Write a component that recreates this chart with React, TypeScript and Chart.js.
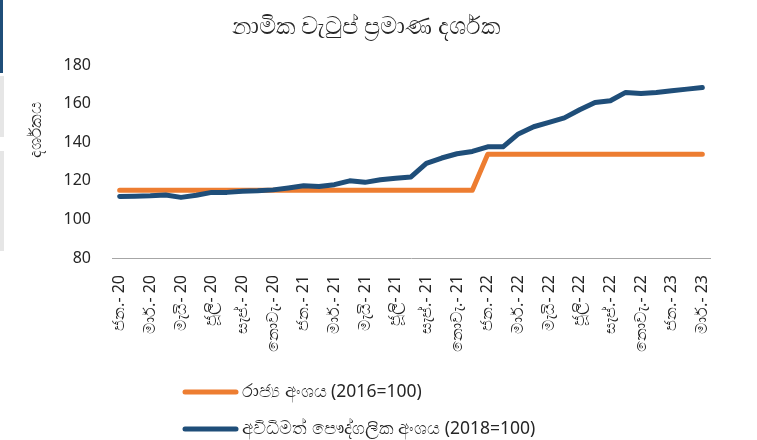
import React, { useEffect, useRef } from 'react';
import { Chart, registerables } from 'chart.js';

Chart.register(...registerables);

const titleText = 'නාමික වැටුප් ප්‍රමාණ දර්ශක';
const yTitleText = 'දර්ශකය';

const categories = [
  'ජන.- 20', 'පෙබ.- 20', 'මාර්.- 20', 'අප්‍රේ.- 20', 'මැයි- 20', 'ජූනි- 20',
  'ජූලි- 20', 'අගෝ.- 20', 'සැප්.- 20', 'ඔක්.- 20', 'නොවැ.- 20', 'දෙසැ.- 20',
  'ජන.- 21', 'පෙබ.- 21', 'මාර්.- 21', 'අප්‍රේ.- 21', 'මැයි- 21', 'ජූනි- 21',
  'ජූලි- 21', 'අගෝ.- 21', 'සැප්.- 21', 'ඔක්.- 21', 'නොවැ.- 21', 'දෙසැ.- 21',
  'ජන.- 22', 'පෙබ.- 22', 'මාර්.- 22', 'අප්‍රේ.- 22', 'මැයි- 22', 'ජූනි- 22',
  'ජූලි- 22', 'අගෝ.- 22', 'සැප්.- 22', 'ඔක්.- 22', 'නොවැ.- 22', 'දෙසැ.- 22',
  'ජන.- 23', 'පෙබ.- 23', 'මාර්.- 23',
];

const publicLabel = 'රාජ්‍ය අංශය (2016=100)';
const publicValues = [
  115.1, 115.1, 115.1, 115.1, 115.1, 115.1, 115.1, 115.1, 115.1, 115.1, 115.1, 115.1,
  115.1, 115.1, 115.1, 115.1, 115.1, 115.1, 115.1, 115.1, 115.1, 115.1, 115.1, 115.1,
  133.7, 133.7, 133.7, 133.7, 133.7, 133.7, 133.7, 133.7, 133.7, 133.7, 133.7, 133.7,
  133.7, 133.7, 133.7,
];

const informalLabel = 'අවිධිමත් පෞද්ගලික අංශය (2018=100)';
const informalValues = [
  111.9, 112.0, 112.2, 112.6, 111.4, 112.5, 114.0, 114.0, 114.6, 114.8, 115.3, 116.3,
  117.4, 117.0, 118.0, 120.0, 119.2, 120.5, 121.3, 122.0, 129.0, 131.8, 134.0, 135.2,
  137.6, 137.6, 144.3, 148.0, 150.3, 152.6, 156.8, 160.6, 161.5, 165.8, 165.2, 165.8,
  166.6, 167.5, 168.3,
];

const yMin = 80;
const yMax = 180;
const yStep = 20;

const ORANGE = '#ED7D31';
const BLUE = '#1F4E79';
const TEXT = '#262626';
const FONT = '"Noto Sans", "Open Sans", sans-serif';

const extrasPlugin = {
  id: 'extras',
  afterDraw(chart: any) {
    const ctx = chart.ctx as CanvasRenderingContext2D;
    ctx.save();
    ctx.fillStyle = TEXT;
    ctx.textBaseline = 'middle';
    // title
    ctx.font = `24px ${FONT}`;
    ctx.textAlign = 'center';
    ctx.fillText(titleText, 366, 27);
    // y axis title
    ctx.save();
    ctx.translate(36, 130);
    ctx.rotate(-Math.PI / 2);
    ctx.font = `17px ${FONT}`;
    ctx.textAlign = 'center';
    ctx.fillText(yTitleText, 0, 0);
    ctx.restore();
    // legend
    const items = [
      { label: publicLabel, color: ORANGE },
      { label: informalLabel, color: BLUE },
    ];
    items.forEach((it, i) => {
      const y = 392 + i * 37;
      ctx.strokeStyle = it.color;
      ctx.lineWidth = 5;
      ctx.lineCap = 'round';
      ctx.beginPath();
      ctx.moveTo(185, y);
      ctx.lineTo(236, y);
      ctx.stroke();
      ctx.font = `17.5px ${FONT}`;
      ctx.textAlign = 'left';
      ctx.fillStyle = TEXT;
      ctx.fillText(it.label, 242, y);
    });
    ctx.restore();
  },
};

export default function App() {
  const canvasRef = useRef<HTMLCanvasElement | null>(null);

  useEffect(() => {
    if (!canvasRef.current) return;
    const chart = new Chart(canvasRef.current, {
      type: 'line',
      data: {
        labels: categories,
        datasets: [
          {
            label: publicLabel,
            data: publicValues,
            borderColor: ORANGE,
            backgroundColor: ORANGE,
            borderWidth: 5,
            pointRadius: 0,
            borderCapStyle: 'round',
            borderJoinStyle: 'round',
            tension: 0,
            order: 1,
          },
          {
            label: informalLabel,
            data: informalValues,
            borderColor: BLUE,
            backgroundColor: BLUE,
            borderWidth: 5,
            pointRadius: 0,
            borderCapStyle: 'round',
            borderJoinStyle: 'round',
            tension: 0,
            order: 0,
          },
        ],
      },
      options: {
        animation: false,
        responsive: true,
        maintainAspectRatio: false,
        layout: { padding: { top: 65, right: 47, left: 0, bottom: 0 } },
        plugins: {
          legend: { display: false },
          title: { display: false },
          tooltip: { enabled: false },
        },
        scales: {
          x: {
            offset: true,
            grid: { display: false, drawTicks: false },
            border: { display: true, color: '#A6A6A6', width: 1 },
            ticks: {
              autoSkip: false,
              minRotation: 90,
              maxRotation: 90,
              padding: 17,
              color: TEXT,
              font: { family: FONT, size: 16 },
              callback: (_v: any, i: number) => (i % 2 === 0 ? categories[i] : ''),
            },
            afterFit: (scale: any) => {
              scale.height = 182;
            },
          },
          y: {
            min: yMin,
            max: yMax,
            grid: { display: false, drawTicks: false },
            border: { display: false },
            ticks: {
              stepSize: yStep,
              padding: 21,
              color: TEXT,
              font: { family: FONT, size: 16 },
            },
            afterFit: (scale: any) => {
              scale.width = 112;
            },
          },
        },
      },
      plugins: [extrasPlugin],
    });
    return () => chart.destroy();
  }, []);

  return (
    <div style={{ position: 'fixed', left: 0, top: 0, width: 757, height: 440, background: '#fff' }}>
      <div style={{ position: 'absolute', left: 0, top: 0, width: 3, height: 73, background: '#1F4E79' }} />
      <div style={{ position: 'absolute', left: 0, top: 76, width: 4, height: 61, background: '#E6E6E6' }} />
      <div style={{ position: 'absolute', left: 0, top: 151, width: 4, height: 100, background: '#E6E6E6' }} />
      <canvas ref={canvasRef} />
    </div>
  );
}
